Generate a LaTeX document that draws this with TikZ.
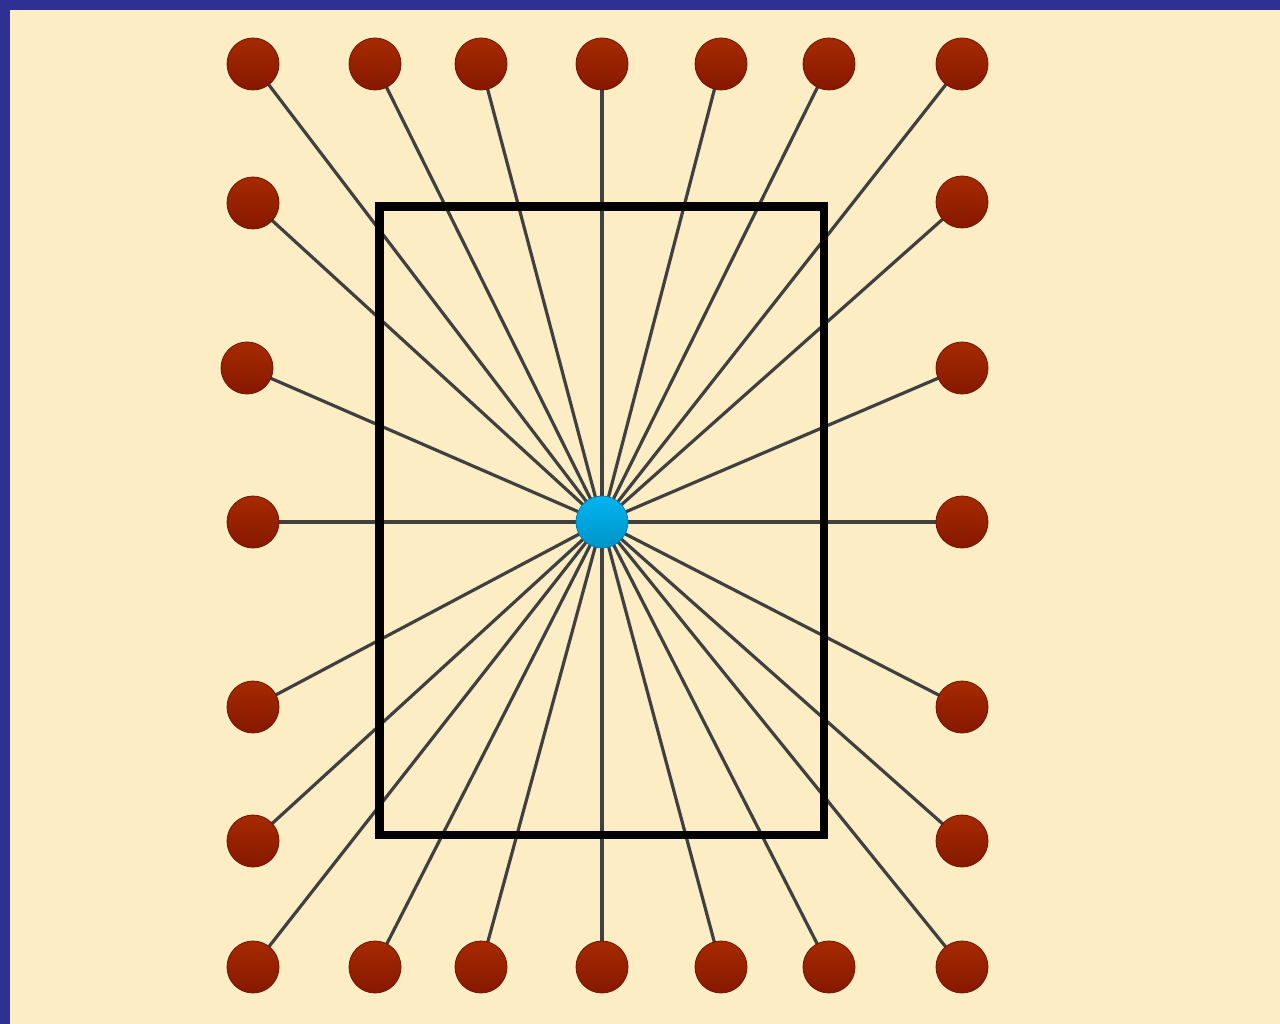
\documentclass[tikz,border=0pt]{standalone}
\definecolor{bg}{HTML}{FDEDC4}
\definecolor{frame}{HTML}{2E3192}
\definecolor{redtop}{HTML}{A62A00}
\definecolor{redbot}{HTML}{861800}
\definecolor{redline}{HTML}{6E1400}
\definecolor{bluetop}{HTML}{00B4F0}
\definecolor{bluebot}{HTML}{0094C8}
\definecolor{blueline}{HTML}{0080B0}
\definecolor{spoke}{HTML}{404040}
\pgfdeclarelayer{back}
\pgfdeclarelayer{lines}
\pgfsetlayers{back,lines,main}
\tikzset{
  leaf/.style={circle, minimum size=52pt, inner sep=0pt, draw=redline, line width=0.8pt, top color=redtop, bottom color=redbot},
  hub/.style={circle, minimum size=52pt, inner sep=0pt, draw=blueline, line width=0.8pt, top color=bluetop, bottom color=bluebot},
  spokeline/.style={draw=spoke, line width=3.2pt},
  boxline/.style={draw=black, line width=8.5pt}
}
\begin{document}
\begin{tikzpicture}[x=1pt,y=-1pt]
\begin{pgfonlayer}{back}
\fill[frame] (0,0) rectangle (1280,1024);
\fill[bg] (10,10) rectangle (1280,1024);
\end{pgfonlayer}
\useasboundingbox (0,0) rectangle (1280,1024);
\node[hub] (c) at (602,522) {};
% top row
\node[leaf] (t1) at (253,64) {};
\node[leaf] (t2) at (375,64) {};
\node[leaf] (t3) at (481,64) {};
\node[leaf] (t4) at (602,64) {};
\node[leaf] (t5) at (721,64) {};
\node[leaf] (t6) at (829,64) {};
\node[leaf] (t7) at (962,64) {};
% left column
\node[leaf] (l1) at (253,203) {};
\node[leaf] (l2) at (247,368) {};
\node[leaf] (l3) at (253,522) {};
\node[leaf] (l4) at (253,707) {};
\node[leaf] (l5) at (253,841) {};
% right column
\node[leaf] (r1) at (962,202) {};
\node[leaf] (r2) at (962,368) {};
\node[leaf] (r3) at (962,522) {};
\node[leaf] (r4) at (962,707) {};
\node[leaf] (r5) at (962,841) {};
% bottom row
\node[leaf] (b1) at (253,967) {};
\node[leaf] (b2) at (375,967) {};
\node[leaf] (b3) at (481,967) {};
\node[leaf] (b4) at (602,967) {};
\node[leaf] (b5) at (721,967) {};
\node[leaf] (b6) at (829,967) {};
\node[leaf] (b7) at (962,967) {};
\begin{pgfonlayer}{lines}
\foreach \n in {t1,t2,t3,t4,t5,t6,t7,l1,l2,l3,l4,l5,r1,r2,r3,r4,r5,b1,b2,b3,b4,b5,b6,b7}
  \draw[spokeline] (c.center) -- (\n.center);
\draw[boxline] (379.5,206.5) rectangle (824,835);
\end{pgfonlayer}
\end{tikzpicture}
\end{document}
